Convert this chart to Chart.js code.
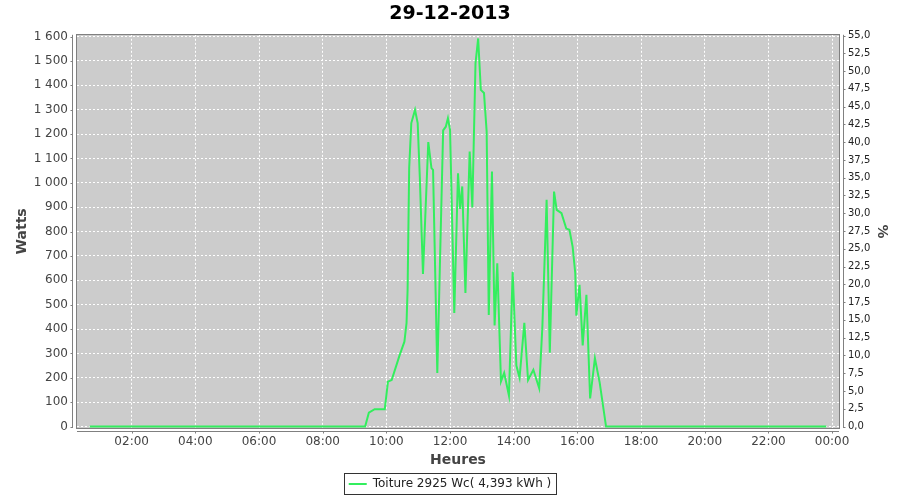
<!DOCTYPE html>
<html>
<head>
<meta charset="utf-8">
<script src="https://cdn.jsdelivr.net/npm/chart.js@4.4.0/dist/chart.umd.min.js"></script>
<style>
  body { margin: 0; background: #ffffff; }
</style>
</head>
<body>
<canvas id="myChart" width="900" height="500"></canvas>
<script>
// Données (heure, puissance en W)
var heures = ['00:41','09:20','09:27','09:38','09:57','10:03','10:10','10:19','10:25','10:34',
  '10:38','10:40','10:43','10:47','10:54','10:59','11:03','11:09','11:19','11:25',
  '11:28','11:36','11:47','11:52','11:56','12:00','12:08','12:15','12:19','12:23',
  '12:29','12:37','12:42','12:48','12:53','12:58','13:04','13:09','13:13','13:19',
  '13:24','13:29','13:36','13:42','13:51','13:58','14:05','14:11','14:20','14:27',
  '14:37','14:48','14:54','15:02','15:08','15:16','15:21','15:30','15:39','15:45',
  '15:51','15:56','15:58','16:04','16:10','16:17','16:24','16:33','16:42','16:54','23:49'];
var watts = [0, 0, 57, 71, 71, 184, 191, 252, 293, 348,
  424, 560, 1060, 1245, 1299, 1245, 1025, 626, 1167, 1060,
  1053, 220, 1215, 1230, 1265, 1217, 466, 1039, 893, 985,
  548, 1128, 899, 1491, 1592, 1381, 1368, 1210, 458, 1046,
  415, 670, 185, 220, 127, 635, 250, 200, 425, 191,
  233, 157, 410, 930, 303, 964, 889, 875, 812, 807,
  738, 629, 455, 581, 333, 540, 115, 280, 180, 0, 0];

var titre = '29-12-2013';
var serieLabel = 'Toiture 2925 Wc( 4,393 kWh )';
var ticksHeures = [120, 240, 360, 480, 600, 720, 840, 960, 1080, 1200, 1320, 1440];
var ticksWatts = [0, 100, 200, 300, 400, 500, 600, 700, 800, 900, 1000, 1100, 1200, 1300, 1400, 1500, 1600];
var ticksPct = [0, 2.5, 5, 7.5, 10, 12.5, 15, 17.5, 20, 22.5, 25, 27.5, 30, 32.5, 35, 37.5, 40, 42.5, 45, 47.5, 50, 52.5, 55];

function enMinutes(h) {
    var p = h.split(':');
    return parseInt(p[0], 10) * 60 + parseInt(p[1], 10);
}
function fmtHeure(m) {
    var h = Math.floor(m / 60) % 24, mm = m % 60;
    return (h < 10 ? '0' : '') + h + ':' + (mm < 10 ? '0' : '') + mm;
}
function fmtWatts(v) {
    return String(v).replace(/\B(?=(\d{3})+(?!\d))/g, ' ');
}

var points = heures.map(function (h, i) { return { x: enMinutes(h), y: watts[i] }; });

// fond gris, cadre, axes décalés à la JFreeChart
var cadre = {
    id: 'cadre',
    beforeDraw: function (chart) {
        var ctx = chart.ctx, a = chart.chartArea;
        ctx.save();
        ctx.fillStyle = '#ffffff';
        ctx.fillRect(0, 0, chart.width, chart.height);
        ctx.fillStyle = '#cccccc';
        ctx.fillRect(a.left, a.top, a.right - a.left, a.bottom - a.top);
        ctx.restore();
    },
    afterDraw: function (chart) {
        var ctx = chart.ctx, a = chart.chartArea;
        ctx.save();
        ctx.lineWidth = 1;
        ctx.strokeStyle = '#808080';
        ctx.strokeRect(Math.round(a.left) - 0.5, Math.round(a.top) - 0.5,
            Math.round(a.right - a.left) + 1, Math.round(a.bottom - a.top) + 1);

        var yl = Math.round(a.left) - 4.5, yr = Math.round(a.right) + 4.5, xb = Math.round(a.bottom) + 3.5;
        ctx.beginPath();
        ctx.moveTo(yl, a.top); ctx.lineTo(yl, a.bottom);
        ctx.moveTo(yr, a.top); ctx.lineTo(yr, a.bottom);
        ctx.moveTo(a.left, xb); ctx.lineTo(a.right, xb);
        var sy = chart.scales.y, sy2 = chart.scales.y2, sx = chart.scales.x;
        sy.ticks.forEach(function (t, i) {
            var p = Math.round(sy.getPixelForTick(i)) + 0.5;
            ctx.moveTo(yl - 2, p); ctx.lineTo(yl, p);
        });
        sy2.ticks.forEach(function (t, i) {
            var p = Math.round(sy2.getPixelForTick(i)) + 0.5;
            ctx.moveTo(yr, p); ctx.lineTo(yr + 2, p);
        });
        sx.ticks.forEach(function (t, i) {
            var p = Math.round(sx.getPixelForTick(i)) + 0.5;
            ctx.moveTo(p, xb); ctx.lineTo(p, xb + 2);
        });
        ctx.stroke();

        // encadré de la légende
        var hb = chart.legend && chart.legend.legendHitBoxes && chart.legend.legendHitBoxes[0];
        if (hb) {
            ctx.strokeStyle = '#333333';
            ctx.strokeRect(Math.round(hb.left) - 4.5, Math.round(hb.top) - 4.5,
                Math.round(hb.width) + 9, Math.round(hb.height) + 9);
        }
        ctx.restore();
    }
};

document.addEventListener('DOMContentLoaded', function () {
    Chart.defaults.font.family = 'DejaVu Sans';
    Chart.defaults.color = '#444444';

    var ctx = document.getElementById('myChart').getContext('2d');
    var myChart = new Chart(ctx, {
        type: 'line',
        data: {
            datasets: [{
                label: serieLabel,
                data: points,
                borderColor: '#33ee5e',
                backgroundColor: '#33ee5e',
                borderWidth: 2,
                pointRadius: 0,
                tension: 0,
                yAxisID: 'y'
            }]
        },
        options: {
            responsive: false,
            animation: false,
            layout: { padding: 0 },
            plugins: {
                title: {
                    display: true,
                    text: titre,
                    color: '#000000',
                    font: { size: 19, weight: 'bold' },
                    padding: { top: 3, bottom: 9 }
                },
                legend: {
                    position: 'bottom',
                    labels: {
                        usePointStyle: true,
                        pointStyle: 'line',
                        pointStyleWidth: 18,
                        color: '#222222',
                        font: { size: 12 },
                        padding: 5
                    }
                },
                tooltip: { enabled: false }
            },
            scales: {
                x: {
                    type: 'linear',
                    min: 17,
                    max: 1453,
                    afterBuildTicks: function (s) {
                        s.ticks = ticksHeures.map(function (v) { return { value: v }; });
                    },
                    afterFit: function (s) { s.height = 45; },
                    ticks: {
                        callback: function (v) { return fmtHeure(v); },
                        font: { size: 12 },
                        color: '#444444',
                        padding: 1,
                        maxRotation: 0,
                        autoSkip: false
                    },
                    grid: {
                        color: '#ffffff',
                        borderDash: [2, 2],
                        tickColor: 'rgba(0,0,0,0)',
                        tickLength: 6
                    },
                    border: { display: false, dash: [2, 2] },
                    title: {
                        display: true,
                        text: 'Heures',
                        color: '#444444',
                        font: { size: 14, weight: 'bold' },
                        padding: { top: 2, bottom: 4 }
                    }
                },
                y: {
                    position: 'left',
                    min: -6,
                    max: 1607,
                    afterBuildTicks: function (s) {
                        s.ticks = ticksWatts.map(function (v) { return { value: v }; });
                    },
                    afterFit: function (s) { s.width = 77; },
                    ticks: {
                        callback: function (v) { return fmtWatts(v); },
                        font: { size: 12 },
                        color: '#444444',
                        padding: 3,
                        autoSkip: false
                    },
                    grid: {
                        color: '#ffffff',
                        borderDash: [2, 2],
                        tickColor: 'rgba(0,0,0,0)',
                        tickLength: 6
                    },
                    border: { display: false, dash: [2, 2] },
                    title: {
                        display: true,
                        text: 'Watts',
                        color: '#444444',
                        font: { size: 14, weight: 'bold' },
                        padding: { top: 14, bottom: 0 }
                    }
                },
                y2: {
                    position: 'right',
                    min: -0.21,
                    max: 55.1,
                    afterBuildTicks: function (s) {
                        s.ticks = ticksPct.map(function (v) { return { value: v }; });
                    },
                    afterFit: function (s) { s.width = 61; },
                    ticks: {
                        callback: function (v) { return v.toFixed(1).replace('.', ','); },
                        font: { size: 10 },
                        color: '#222222',
                        padding: 3,
                        autoSkip: false
                    },
                    grid: {
                        drawOnChartArea: false,
                        tickColor: 'rgba(0,0,0,0)',
                        tickLength: 6
                    },
                    border: { display: false },
                    title: {
                        display: true,
                        text: '%',
                        color: '#444444',
                        font: { size: 14, weight: 'bold' },
                        padding: { top: 10, bottom: 0 }
                    }
                }
            }
        },
        plugins: [cadre]
    });
});
</script>
</body>
</html>
